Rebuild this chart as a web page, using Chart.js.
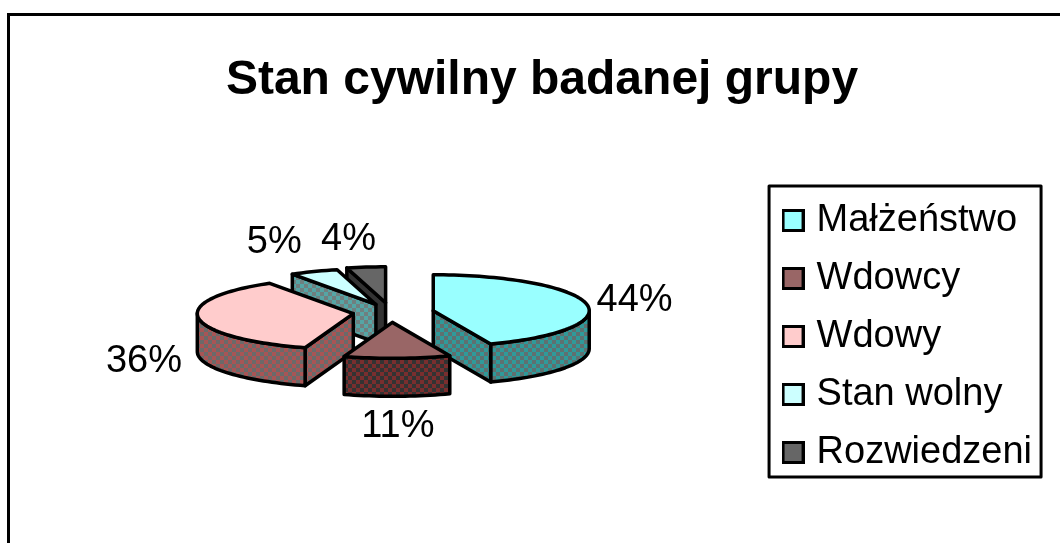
<!DOCTYPE html>
<html>
<head>
    <meta charset="utf-8">
    <title>Stan cywilny badanej grupy</title>
    <script src="https://cdn.jsdelivr.net/npm/chart.js"></script>
    <style>
        body { margin: 0; background: #fff; }
        canvas { display: block; }
    </style>
</head>
<body>
    <canvas id="pieChart" width="1060" height="543"></canvas>

    <script>
        const categories = ['Małżeństwo', 'Wdowcy', 'Wdowy', 'Stan wolny', 'Rozwiedzeni'];
        const shares = [44, 11, 36, 5, 4];
        const topColors = ['#99ffff', '#996666', '#ffcccc', '#ccffff', '#666666'];
        const wallColors = [
            ['#2f9a9a', '#5f7070'],
            ['#7a2e2e', '#333333'],
            ['#a85555', '#6a6a6a'],
            ['#55a5a5', '#6f7f7f'],
            ['#333333', '#333333']
        ];
        // back to front
        const drawOrder = [4, 3, 2, 0, 1];
        // Excel pushed the labels about a bit
        const labelNudgeX = [-3, -1, -3, -19, -11];
        const labelNudgeY = [2, 0, 2, -2, 2];

        const pieCentre = { x: 391, y: 312.5 };
        const squash = 0.23;
        const depth = 38;
        const explode = [43, 43, 38, 38, 43];
        const lineW = 3.5;

        function makeSwatch(color) {
            const c = document.createElement('canvas');
            c.width = 23;
            c.height = 23;
            const g = c.getContext('2d');
            g.fillStyle = '#000';
            g.fillRect(0, 0, 23, 23);
            g.fillStyle = color;
            g.fillRect(3, 3, 17, 17);
            return c;
        }

        function makeDither(ctx, colors) {
            const c = document.createElement('canvas');
            c.width = 8;
            c.height = 8;
            const g = c.getContext('2d');
            g.fillStyle = colors[0];
            g.fillRect(0, 0, 8, 8);
            g.fillStyle = colors[1];
            g.fillRect(4, 0, 4, 4);
            g.fillRect(0, 4, 4, 4);
            return ctx.createPattern(c, 'repeat');
        }

        const swatches = topColors.map(makeSwatch);

        // where an arc's point lands on screen once the pie is laid flat
        function project(x, y, arc) {
            return {
                x: pieCentre.x + (x - arc.x),
                y: pieCentre.y + (y - arc.y) * squash
            };
        }

        function sliceOrigin(arc, i) {
            const mid = (arc.startAngle + arc.endAngle) / 2;
            return {
                x: arc.x + Math.cos(mid) * explode[i],
                y: arc.y + Math.sin(mid) * explode[i]
            };
        }

        function slicePoints(arc, index) {
            const o = sliceOrigin(arc, index);
            const pts = [project(o.x, o.y, arc)];
            const steps = Math.max(4, Math.round((arc.endAngle - arc.startAngle) * 30));
            for (let i = 0; i <= steps; i++) {
                const a = arc.startAngle + (arc.endAngle - arc.startAngle) * i / steps;
                pts.push(project(o.x + Math.cos(a) * arc.outerRadius, o.y + Math.sin(a) * arc.outerRadius, arc));
            }
            return pts;
        }

        function tracePoly(ctx, pts) {
            ctx.beginPath();
            pts.forEach((p, i) => i ? ctx.lineTo(p.x, p.y) : ctx.moveTo(p.x, p.y));
            ctx.closePath();
        }

        function drawWalls(ctx, arc, index, pattern) {
            const pts = slicePoints(arc, index);
            // the radial sides and the rim are separate faces
            const faces = [
                [pts[0], pts[1]],
                pts.slice(1),
                [pts[pts.length - 1], pts[0]]
            ];
            ctx.fillStyle = pattern;
            ctx.strokeStyle = '#000';
            ctx.lineWidth = lineW;
            ctx.lineJoin = 'round';
            faces.forEach(face => {
                let run = [];
                const flush = () => {
                    if (run.length > 1) {
                        const low = run.slice().reverse().map(p => ({ x: p.x, y: p.y + depth }));
                        tracePoly(ctx, run.concat(low));
                        ctx.fill();
                        ctx.stroke();
                    }
                    run = [];
                };
                for (let i = 0; i < face.length - 1; i++) {
                    if (face[i + 1].x < face[i].x) {
                        if (!run.length) run.push(face[i]);
                        run.push(face[i + 1]);
                    } else {
                        flush();
                    }
                }
                flush();
            });
        }

        const pie3d = {
            id: 'pie3d',
            afterLayout(chart) {
                // legend sits lower and further right than the layout puts it
                const legend = chart.legend;
                legend.left += 11;
                legend.right += 11;
                legend.top += 65;
                legend.bottom += 65;
            },
            beforeDatasetDraw(chart, args) {
                const ctx = chart.ctx;
                const arcs = args.meta.data;
                drawOrder.forEach(i => {
                    const arc = arcs[i];
                    drawWalls(ctx, arc, i, makeDither(ctx, wallColors[i]));

                    const o = sliceOrigin(arc, i);
                    ctx.save();
                    ctx.translate(pieCentre.x, pieCentre.y);
                    ctx.scale(1, squash);
                    ctx.translate(o.x - 2 * arc.x, o.y - 2 * arc.y);
                    arc.draw(ctx, chart.chartArea);
                    ctx.restore();

                    tracePoly(ctx, slicePoints(arc, i));
                    ctx.strokeStyle = '#000';
                    ctx.lineWidth = lineW;
                    ctx.lineJoin = 'round';
                    ctx.stroke();
                });
                return false;
            },
            afterDatasetsDraw(chart) {
                // percent labels outside the rim
                const ctx = chart.ctx;
                ctx.save();
                ctx.font = '38px "Liberation Sans"';
                ctx.fillStyle = '#000';
                ctx.textAlign = 'center';
                ctx.textBaseline = 'middle';
                chart.getDatasetMeta(0).data.forEach((arc, i) => {
                    const mid = (arc.startAngle + arc.endAngle) / 2;
                    const off = explode[i] + arc.outerRadius;
                    const p = project(arc.x + Math.cos(mid) * off, arc.y + Math.sin(mid) * off, arc);
                    const drop = Math.sin(mid) > 0 ? depth : 0;
                    ctx.fillText(shares[i] + '%',
                        p.x + Math.cos(mid) * 52 + labelNudgeX[i],
                        p.y + Math.sin(mid) * 30 + drop + labelNudgeY[i]);
                });
                ctx.restore();
            },
            beforeDraw(chart) {
                // outer frame runs off the right and bottom of the picture
                const ctx = chart.ctx;
                ctx.fillStyle = '#000';
                ctx.fillRect(7, 13, chart.width - 7, 3);
                ctx.fillRect(7, 13, 3, chart.height - 13);
            },
            afterDraw(chart) {
                const ctx = chart.ctx;
                const boxes = chart.legend.legendHitBoxes;
                const left = boxes[0].left - 21;
                const top = boxes[0].top - 17;
                ctx.strokeStyle = '#000';
                ctx.lineWidth = 3;
                ctx.strokeRect(left + 1.5, top + 1.5, 272, 291);
            }
        };

        new Chart(document.getElementById('pieChart'), {
            type: 'pie',
            data: {
                labels: categories,
                datasets: [{
                    data: shares,
                    backgroundColor: topColors,
                    borderWidth: 0,
                    radius: 156
                }]
            },
            options: {
                responsive: false,
                animation: false,
                events: [],
                layout: { padding: { left: 53, right: 29, top: 0, bottom: 0 } },
                plugins: {
                    tooltip: { enabled: false },
                    title: {
                        display: true,
                        text: 'Stan cywilny badanej grupy',
                        color: '#000',
                        font: { family: '"Liberation Sans"', size: 48, weight: 'bold' },
                        padding: { top: 52, bottom: 78 }
                    },
                    legend: {
                        position: 'right',
                        labels: {
                            color: '#000',
                            font: { family: '"Liberation Sans"', size: 38 },
                            usePointStyle: true,
                            boxWidth: 9,
                            padding: 20,
                            generateLabels(chart) {
                                const items = Chart.overrides.pie.plugins.legend.labels.generateLabels(chart);
                                items.forEach((item, i) => { item.pointStyle = swatches[i]; });
                                return items;
                            }
                        }
                    }
                }
            },
            plugins: [pie3d]
        });
    </script>
</body>
</html>
